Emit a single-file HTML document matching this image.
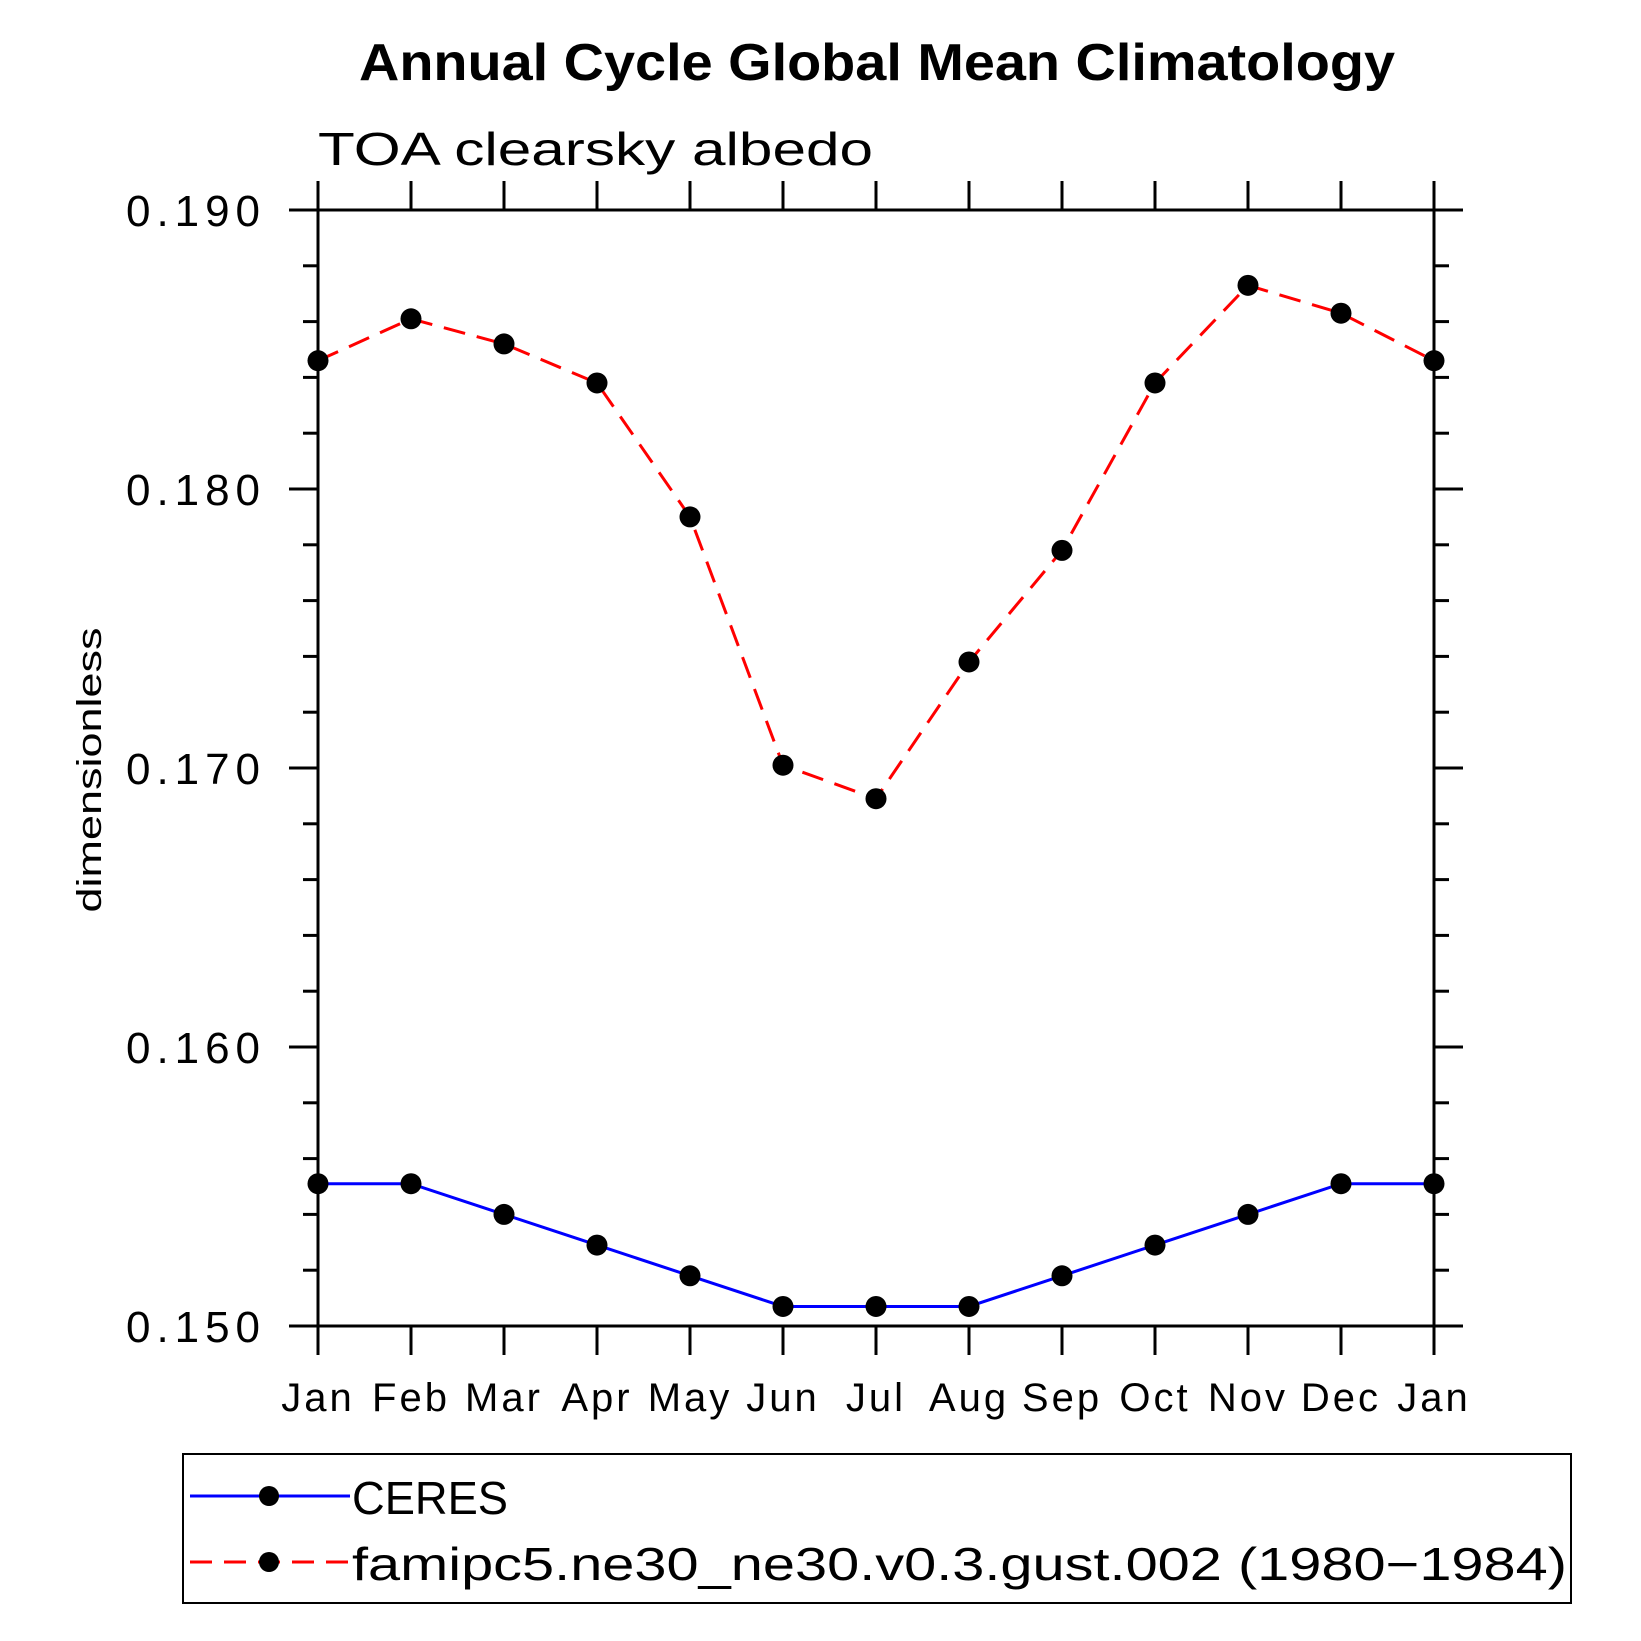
<!DOCTYPE html>
<html><head><meta charset="utf-8"><style>
html,body{margin:0;padding:0;background:#fff;}
svg{display:block;}
text{font-family:"Liberation Sans","DejaVu Sans",sans-serif;}
</style></head><body>
<svg id="chart" width="1641" height="1641" viewBox="0 0 1641 1641" xmlns="http://www.w3.org/2000/svg">
<text x="877" y="80" text-anchor="middle" font-size="52" font-weight="bold" textLength="1036" lengthAdjust="spacingAndGlyphs">Annual Cycle Global Mean Climatology</text>
<text x="318" y="165" font-size="46" font-weight="300" textLength="555" lengthAdjust="spacingAndGlyphs">TOA clearsky albedo</text>
<text transform="translate(101,770) rotate(-90)" text-anchor="middle" font-size="34" textLength="285" lengthAdjust="spacingAndGlyphs">dimensionless</text>
<g id="axes"></g>
<g id="series"></g>
<g>
<rect x="183" y="1454" width="1388" height="149" fill="none" stroke="#000" stroke-width="2"/>
<g>
<line x1="190" y1="1496" x2="350" y2="1496" stroke="#0000ff" stroke-width="3"/>
<circle cx="269" cy="1496" r="10" fill="#000"/>
<text x="352" y="1514" font-size="46" textLength="156" lengthAdjust="spacingAndGlyphs">CERES</text>
</g>
<g>
<line x1="190" y1="1562" x2="350" y2="1562" stroke="#ff0000" stroke-width="3" stroke-dasharray="22,12"/>
<circle cx="269" cy="1562" r="10" fill="#000"/>
<text x="352" y="1580" font-size="46" textLength="1215" lengthAdjust="spacingAndGlyphs">famipc5.ne30_ne30.v0.3.gust.002 (1980−1984)</text>
</g>
</g>
</svg>
<script>
const months = ["Jan","Feb","Mar","Apr","May","Jun","Jul","Aug","Sep","Oct","Nov","Dec","Jan"];
const ceresValues = [0.1551,0.1551,0.1540,0.1529,0.1518,0.1507,0.1507,0.1507,0.1518,0.1529,0.1540,0.1551,0.1551];
const modelValues = [0.1846,0.1861,0.1852,0.1838,0.1790,0.1701,0.1689,0.1738,0.1778,0.1838,0.1873,0.1863,0.1846];
const yTickLabels = ["0.150","0.160","0.170","0.180","0.190"];
const yTickValues = [0.150,0.160,0.170,0.180,0.190];

const NS="http://www.w3.org/2000/svg";
const L=318,R=1434,T=210,B=1326,yMin=0.150,yMax=0.190;
const xs=i=>L+(R-L)*i/(months.length-1);
const ys=v=>B-(v-yMin)/(yMax-yMin)*(B-T);
function mk(tag,attrs,parent){const e=document.createElementNS(NS,tag);for(const k in attrs)e.setAttribute(k,attrs[k]);parent.appendChild(e);return e;}
const axes=document.getElementById('axes');
const frame=mk('rect',{x:L,y:T,width:R-L,height:B-T,fill:'none',stroke:'#000','stroke-width':3},axes);


months.forEach((m,i)=>{
  const x=xs(i);
  const tb=mk('line',{x1:x,y1:B,x2:x,y2:B+29,stroke:'#000','stroke-width':3},axes);
  
  
  const tt=mk('line',{x1:x,y1:T,x2:x,y2:T-29,stroke:'#000','stroke-width':3},axes);
  
  
  const t=mk('text',{x:x,y:1411,'text-anchor':'middle','font-size':40,'letter-spacing':3},axes);
  t.textContent=m;
  
  
});
for(let k=0;k<=20;k++){
  const v=yMin+k*0.002,y=ys(v),major=k%5===0,len=major?29:15;
  const a=mk('line',{x1:L,y1:y,x2:L-len,y2:y,stroke:'#000','stroke-width':3},axes);
  
  
  const b=mk('line',{x1:R,y1:y,x2:R+len,y2:y,stroke:'#000','stroke-width':3},axes);
  
  
}
yTickValues.forEach((v,i)=>{
  const t=mk('text',{x:126,y:ys(v)+16,'font-size':44,textLength:134,lengthAdjust:'spacing'},axes);
  t.textContent=yTickLabels[i];
  
  
});
const series=document.getElementById('series');
function draw(vals,color,dash,name){
  const pts=vals.map((v,i)=>xs(i)+','+ys(v)).join(' ');
  const pl=mk('polyline',{points:pts,fill:'none',stroke:color,'stroke-width':3},series);
  if(dash)pl.setAttribute('stroke-dasharray',dash);
  
  
  vals.forEach((v,i)=>{
    const c=mk('circle',{cx:xs(i),cy:ys(v),r:10.5,fill:'#000'},series);
    
    
  });
}
draw(ceresValues,'#0000ff',null,'ceres');
draw(modelValues,'#ff0000','22,12','model');
</script>
</body></html>
